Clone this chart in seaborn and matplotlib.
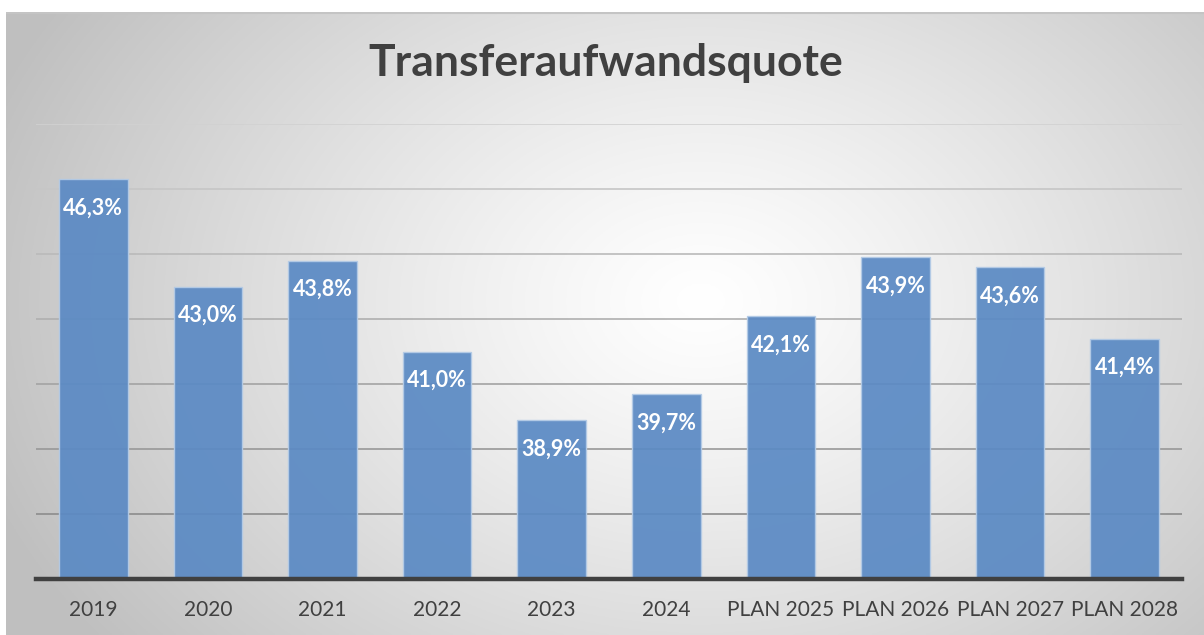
import numpy as np
import pandas as pd
import matplotlib
matplotlib.use("Agg")
import matplotlib.pyplot as plt
import seaborn as sns

categories = ["2019", "2020", "2021", "2022", "2023", "2024",
              "PLAN 2025", "PLAN 2026", "PLAN 2027", "PLAN 2028"]
values = [46.3, 43.0, 43.8, 41.0, 38.9, 39.7, 42.1, 43.9, 43.6, 41.4]
labels = ["46,3%", "43,0%", "43,8%", "41,0%", "38,9%", "39,7%",
          "42,1%", "43,9%", "43,6%", "41,4%"]
grid_levels = [36, 38, 40, 42, 44, 46, 48]
title = "Transferaufwandsquote"

sns.set_theme(style="white")
plt.rcParams["font.family"] = ["Lato", "DejaVu Sans"]

W, H = 1204, 635
fig = plt.figure(figsize=(W / 100, H / 100), dpi=100)
fig.patch.set_facecolor("white")

# background radial gradient panel
bx0, by_top = 6, 12
bg = fig.add_axes([bx0 / W, 0, 1 - bx0 / W, (H - by_top) / H], zorder=-10)
ny, nx = 300, 600
yy, xx = np.mgrid[0:ny, 0:nx]
px = xx / nx * (W - bx0) + bx0
py = yy / ny * (H - by_top) + by_top
cx, cy = 700, 300
d = np.sqrt(((px - cx) / 760) ** 2 + ((py - cy) / 560) ** 2)
d = np.clip(d, 0, 1)
g = 1.0 - 0.25 * d ** 1.2
img = np.dstack([g, g, g])
bg.imshow(img, aspect="auto", extent=[0, 1, 0, 1], origin="upper")
bg.set_xlim(0, 1)
bg.set_ylim(0, 1)
bg.axis("off")
bg.plot([0, 1], [0.998, 0.998], color="#c4c4c4", lw=1.5, transform=bg.transAxes)

# main axes
left, right = 36, 1182
bottom_px, top_px = 579, 124
ax = fig.add_axes([left / W, (H - bottom_px) / H, (right - left) / W, (bottom_px - top_px) / H])
ax.patch.set_alpha(0)

df = pd.DataFrame({"cat": categories, "val": values})

# gridlines with gradient of greys
for lv in grid_levels:
    t = (lv - 36) / (48 - 36)
    c = 0.55 + t * (0.82 - 0.55)
    ax.axhline(lv, color=(c, c, c), lw=1.2, zorder=0)

sns.barplot(data=df, x="cat", y="val", color="#5b8ac4", width=0.6, ax=ax,
            saturation=1, alpha=0.93, edgecolor="#b4cbe6", linewidth=1.0, zorder=2)

ax.set_ylim(34, 48)
ax.set_xlim(-0.5, len(categories) - 0.5)
ax.set_xlabel("")
ax.set_ylabel("")
ax.set_yticks([])
for s in ["top", "left", "right"]:
    ax.spines[s].set_visible(False)
ax.spines["bottom"].set_color("#404040")
ax.spines["bottom"].set_linewidth(3.2)
ax.spines["bottom"].set_zorder(5)
ax.tick_params(axis="x", length=0, pad=15, labelsize=15, labelcolor="#404040")

for i, (v, lab) in enumerate(zip(values, labels)):
    ax.annotate(lab, (i, v), xytext=(0, -21), textcoords="offset points",
                ha="center", va="center", color="white", fontsize=15.5,
                fontweight="bold", zorder=6)

fig.text(606 / W, 1 - 63 / H, title, ha="center", va="center",
         fontsize=32, fontweight="bold", color="#404040")

fig.savefig("out.png", dpi=100)
